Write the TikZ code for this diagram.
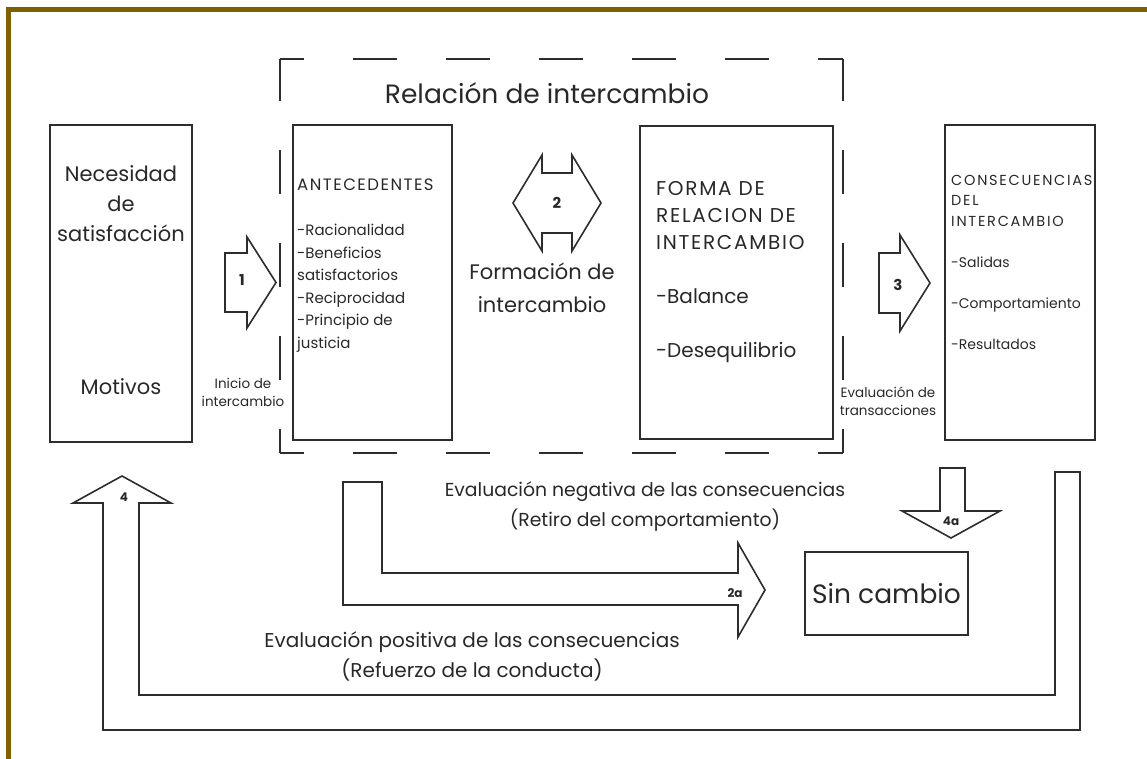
\documentclass[tikz,border=0pt]{standalone}
\usepackage{fontspec}
\setmainfont{Poppins}
\usetikzlibrary{positioning}

\definecolor{frameGold}{RGB}{127,96,0}
\definecolor{lineGray}{RGB}{45,45,45}
\definecolor{textGray}{RGB}{40,40,40}

\newcommand{\trackCaps}[2]{{\addfontfeatures{LetterSpace=#1}#2}}

\tikzset{
  box/.style       = {rectangle, draw=lineGray, line width=1.6pt, inner sep=0pt},
  blockArrow/.style= {draw=lineGray, line width=1.6pt, fill=white, line join=miter},
  relFrame/.style  = {draw=lineGray, line width=1.8pt, dash pattern=on 44pt off 49pt, dash phase=20pt},
  bigText/.style   = {text=textGray, align=center, inner sep=0pt},
  listText/.style  = {text=textGray, align=left, inner sep=0pt, anchor=north west},
  smallText/.style = {text=textGray, align=center, inner sep=0pt, font=\fontsize{13.5}{18}\selectfont},
  arrowLabel/.style= {text=textGray, inner sep=0pt, font=\bfseries\fontsize{12}{12}\selectfont}
}

\begin{document}
\begin{tikzpicture}[x=1pt, y=-1pt]
\useasboundingbox (0,0) rectangle (1147,759);

% outer border
\draw[frameGold, line width=5pt] (8.5,759) -- (8.5,9.5) -- (1147,9.5);

% relacion de intercambio frame
\coordinate (frameTL) at (280,59);
\coordinate (frameTR) at (843,59);
\coordinate (frameBR) at (843,453);
\coordinate (frameBL) at (280,453);
\draw[relFrame] (frameTL) -- (frameTR);
\draw[relFrame] (frameBL) -- (frameBR);
\draw[relFrame] (frameBL) -- (frameTL);
\draw[relFrame] (frameBR) -- (frameTR);
\node[bigText, font=\fontsize{26.5}{26.5}\selectfont] (relTitle) at (547,93) {Relación de intercambio};

% boxes
\node[box, minimum width=142pt, minimum height=317pt] (needBox) at (121,283.5) {};
\node[box, minimum width=159pt, minimum height=315pt] (antBox)  at (372.5,282.5) {};
\node[box, minimum width=193pt, minimum height=313pt] (formBox) at (736.5,282.5) {};
\node[box, minimum width=150pt, minimum height=315pt] (consBox) at (1020,282.5) {};
\node[box, minimum width=163pt, minimum height=83pt, font=\fontsize{26.5}{26.5}\selectfont, text=textGray]
     (noChange) at (886.5,593.5) {Sin cambio};

% box texts
\node[bigText, font=\fontsize{21}{30}\selectfont] (needText) at (121,204) {Necesidad\\de\\satisfacción};
\node[bigText, font=\fontsize{21}{30}\selectfont] (motives)  at (121,387) {Motivos};

\node[listText, font=\fontsize{15}{22.5}\selectfont] (antText) at (297,179) {%
  {\fontsize{16.5}{22.5}\selectfont\trackCaps{9}{ANTECEDENTES}}\\[22.5pt]
  -Racionalidad\\
  -Beneficios\\
  satisfactorios\\
  -Reciprocidad\\
  -Principio de\\
  justicia};

\node[listText, font=\fontsize{20}{27}\selectfont] (formText) at (656,181) {%
  \trackCaps{8.5}{FORMA DE}\\
  \trackCaps{8.5}{RELACION DE}\\
  \trackCaps{8.5}{INTERCAMBIO}\\[27pt]
  -Balance\\[27pt]
  -Desequilibrio};

\node[listText, font=\fontsize{14}{20.5}\selectfont] (consText) at (951,175) {%
  {\fontsize{14.5}{20.5}\selectfont\trackCaps{12}{CONSECUENCIAS}}\\
  {\fontsize{14.5}{20.5}\selectfont\trackCaps{12}{DEL}}\\
  {\fontsize{14.5}{20.5}\selectfont\trackCaps{12}{INTERCAMBIO}}\\[20.5pt]
  -Salidas\\[20.5pt]
  -Comportamiento\\[20.5pt]
  -Resultados};

\node[bigText, font=\fontsize{21}{33}\selectfont] (formation) at (542,288) {Formación de\\intercambio};

% small captions
\node[smallText] (startText) at (243,392) {Inicio de\\intercambio};
\node[smallText] (evalText)  at (888,401) {Evaluación de\\transacciones};

% block arrows
\draw[blockArrow] (225,253) -- (247,253) -- (247,237) -- (276,282.5) -- (247,328) -- (247,312) -- (225,312) -- cycle;
\draw[blockArrow] (513,203) -- (542,155) -- (542,173) -- (572,173) -- (572,155) -- (601,203)
                  -- (572,251) -- (572,233) -- (542,233) -- (542,251) -- cycle;
\draw[blockArrow] (879,253) -- (900,253) -- (900,235) -- (930,283) -- (900,331) -- (900,313) -- (879,313) -- cycle;
\draw[blockArrow] (940,468) -- (965,468) -- (965,511) -- (1000,511) -- (951,538) -- (902,511) -- (940,511) -- cycle;
\draw[blockArrow] (343,482) -- (382,482) -- (382,573) -- (738,573) -- (738,543) -- (765,590)
                  -- (738,637) -- (738,605) -- (343,605) -- cycle;
\draw[blockArrow] (1055,472) -- (1080,472) -- (1080,730) -- (103,730) -- (103,503) -- (73,503)
                  -- (122,476) -- (171,503) -- (139,503) -- (139,695) -- (1055,695) -- cycle;

\node[arrowLabel, font=\bfseries\fontsize{15}{15}\selectfont] (stepOne)   at (242,280) {1};
\node[arrowLabel, font=\bfseries\fontsize{15}{15}\selectfont] (stepTwo)   at (557,203) {2};
\node[arrowLabel, font=\bfseries\fontsize{15}{15}\selectfont] (stepThree) at (898,285) {3};
\node[arrowLabel] (stepTwoA)  at (735,593) {2a};
\node[arrowLabel] (stepFourA) at (951,521) {4a};
\node[arrowLabel] (stepFour)  at (124,497) {4};

% evaluation captions
\node[bigText, font=\fontsize{18.8}{30}\selectfont] (negEval) at (645,507)
     {Evaluación negativa de las consecuencias\\(Retiro del comportamiento)};
\node[bigText, font=\fontsize{20}{30}\selectfont] (posEval) at (472,656)
     {Evaluación positiva de las consecuencias\\(Refuerzo de la conducta)};

\end{tikzpicture}
\end{document}
